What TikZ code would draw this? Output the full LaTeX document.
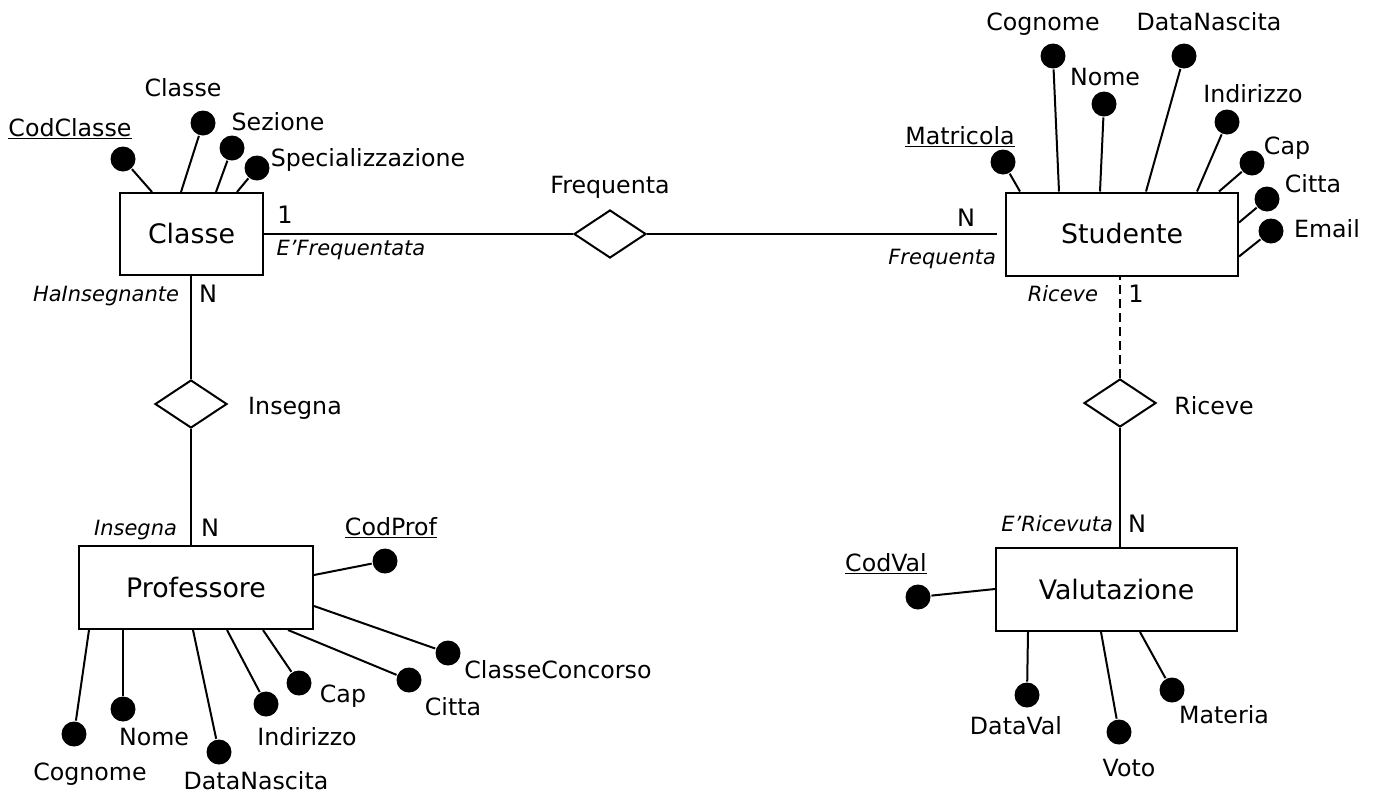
\documentclass[tikz,border=0pt]{standalone}
\usepackage{fontspec}
\setmainfont{DejaVu Sans}
\usetikzlibrary{shapes.geometric}
\begin{document}
\begin{tikzpicture}[x=1pt,y=-1pt,line width=2pt,
  entity/.style={draw,rectangle,inner sep=0pt,font=\fontsize{26.8}{26.8}\selectfont},
  rel/.style={draw,diamond,inner sep=0pt,minimum width=72pt,minimum height=48pt},
  dot/.style={circle,fill=black,draw=none,inner sep=0pt,minimum size=25pt},
  lbl/.style={inner sep=0pt,font=\fontsize{23.7}{23.7}\selectfont,text height=17pt,text depth=0pt},
  role/.style={inner sep=0pt,font=\fontsize{21}{21}\selectfont\itshape,text height=15pt,text depth=0pt},
  card/.style={inner sep=0pt,font=\fontsize{24}{24}\selectfont,text height=17.5pt,text depth=0pt}]
\fill[white] (0,0) rectangle (1376,796);
\useasboundingbox (0,0) rectangle (1376,796);

% entities
\node[entity,minimum width=143pt,minimum height=82pt] (classe) at (191.5,234) {Classe};
\node[entity,minimum width=232pt,minimum height=83pt] (stud) at (1122,234) {Studente};
\node[entity,minimum width=234pt,minimum height=83pt] (prof) at (196,587.5) {Professore};
\node[entity,minimum width=241pt,minimum height=83pt] (val) at (1116.5,589.5) {Valutazione};

% relationships
\node[rel] (freq) at (610,234) {};
\node[rel] (ins) at (191,404) {};
\node[rel] (ric) at (1120,403) {};
\node[lbl] (lfreq) at (610,185) {Frequenta};
\node[lbl] (lins) at (295,406) {Insegna};
\node[lbl] (lric) at (1214,406) {Riceve};

% relationship connectors
\draw (classe.east) -- (freq.west);
\draw[shorten >=8pt] (freq.east) -- (stud.west);
\draw (ins.north) -- (ins.north |- classe.south);
\draw (ins.south) -- (ins.south |- prof.north);
\draw[dash pattern=on 9pt off 5pt] (ric.north) -- (ric.north |- stud.south);
\draw (ric.south) -- (ric.south |- val.north);

% cardinalities and roles
\node[card] (c1) at (285,215) {1};
\node[card] (c2) at (966,218) {N};
\node[card] (c3) at (208,294) {N};
\node[card] (c4) at (210,528) {N};
\node[card] (c5) at (1136,294) {1};
\node[card] (c6) at (1137,524) {N};
\node[role] (r1) at (351,248) {E’Frequentata};
\node[role,anchor=east] (r2) at (997,257) {Frequenta};
\node[role,anchor=east] (r3) at (180,294) {HaInsegnante};
\node[role,anchor=east] (r4) at (178,528) {Insegna};
\node[role,anchor=east] (r5) at (1099,294) {Riceve};
\node[role,anchor=east] (r6) at (1114,524) {E’Ricevuta};

% Classe attributes
\node[dot] (a1) at (123,159) {};
\node[dot] (a2) at (203,123) {};
\node[dot] (a3) at (232,148) {};
\node[dot] (a4) at (257,168) {};
\draw (a1) -- ([xshift=33pt]classe.north west);
\draw (a2) -- ([xshift=62pt]classe.north west);
\draw (a3) -- ([xshift=97pt]classe.north west);
\draw (a4) -- ([xshift=118pt]classe.north west);
\node[lbl] (t1) at (70,128) {\underline{CodClasse}};
\node[lbl] (t2) at (183,88) {Classe};
\node[lbl] (t3) at (278,122) {Sezione};
\node[lbl] (t4) at (368,158) {Specializzazione};

% Studente attributes
\node[dot] (s1) at (1003,162) {};
\node[dot] (s2) at (1053,56) {};
\node[dot] (s3) at (1104,104) {};
\node[dot] (s4) at (1184,56) {};
\node[dot] (s5) at (1227,122) {};
\node[dot] (s6) at (1252,163) {};
\node[dot] (s7) at (1267,199) {};
\node[dot] (s8) at (1271,231) {};
\draw (s1) -- ([xshift=15pt]stud.north west);
\draw (s2) -- ([xshift=54pt]stud.north west);
\draw (s3) -- ([xshift=95pt]stud.north west);
\draw (s4) -- ([xshift=141pt]stud.north west);
\draw (s5) -- ([xshift=192pt]stud.north west);
\draw (s6) -- ([xshift=214pt]stud.north west);
\draw (s7) -- ([yshift=-31pt]stud.north east);
\draw (s8) -- ([yshift=-65pt]stud.north east);
\node[lbl] (u1) at (960,136) {\underline{Matricola}};
\node[lbl] (u2) at (1043,22) {Cognome};
\node[lbl] (u3) at (1105,77) {Nome};
\node[lbl] (u4) at (1209,22) {DataNascita};
\node[lbl] (u5) at (1253,94) {Indirizzo};
\node[lbl] (u6) at (1287,146) {Cap};
\node[lbl] (u7) at (1313,184) {Citta};
\node[lbl] (u8) at (1327,229) {Email};

% Professore attributes
\node[dot] (p1) at (385,561) {};
\node[dot] (p2) at (448,653) {};
\node[dot] (p3) at (74,734) {};
\node[dot] (p4) at (123,709) {};
\node[dot] (p5) at (219,752) {};
\node[dot] (p6) at (266,704) {};
\node[dot] (p7) at (299,683) {};
\node[dot] (p8) at (409,680) {};
\draw (p1) -- ([yshift=-30pt]prof.north east);
\draw (p2) -- ([yshift=-61pt]prof.north east);
\draw (p3) -- ([xshift=11pt]prof.south west);
\draw (p4) -- ([xshift=45pt]prof.south west);
\draw (p5) -- ([xshift=115pt]prof.south west);
\draw (p6) -- ([xshift=149pt]prof.south west);
\draw (p7) -- ([xshift=185pt]prof.south west);
\draw (p8) -- ([xshift=210pt]prof.south west);
\node[lbl] (q1) at (391,527) {\underline{CodProf}};
\node[lbl] (q2) at (558,670) {ClasseConcorso};
\node[lbl] (q3) at (90,772) {Cognome};
\node[lbl] (q4) at (154,737) {Nome};
\node[lbl] (q5) at (256,781) {DataNascita};
\node[lbl] (q6) at (307,737) {Indirizzo};
\node[lbl] (q7) at (343,694) {Cap};
\node[lbl] (q8) at (453,707) {Citta};

% Valutazione attributes
\node[dot] (v1) at (918,597) {};
\node[dot] (v2) at (1027,695) {};
\node[dot] (v3) at (1119,732) {};
\node[dot] (v4) at (1172,690) {};
\draw (v1) -- ([yshift=-42pt]val.north west);
\draw (v2) -- ([xshift=33pt]val.south west);
\draw (v3) -- ([xshift=106pt]val.south west);
\draw (v4) -- ([xshift=145pt]val.south west);
\node[lbl] (w1) at (886,563) {\underline{CodVal}};
\node[lbl] (w2) at (1016,726) {DataVal};
\node[lbl] (w3) at (1129,768) {Voto};
\node[lbl] (w4) at (1224,715) {Materia};
\end{tikzpicture}
\end{document}
